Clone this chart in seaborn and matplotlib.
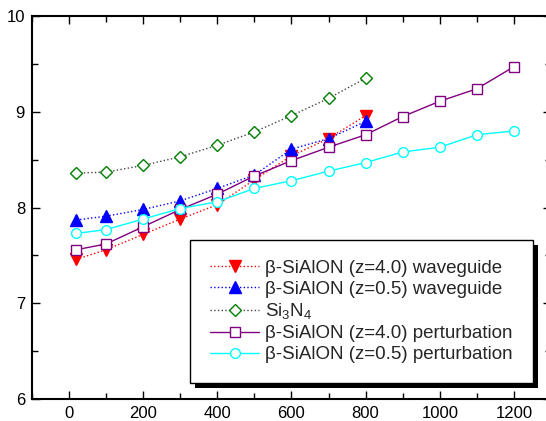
import numpy as np
import pandas as pd
import matplotlib
matplotlib.use("Agg")
import matplotlib.pyplot as plt
from matplotlib.patches import Rectangle
from matplotlib.transforms import IdentityTransform
from matplotlib.ticker import MultipleLocator
import seaborn as sns

# Data
x_short = [20, 100, 200, 300, 400, 500, 600, 700, 800]
x_long = [20, 100, 200, 300, 400, 500, 600, 700, 800, 900, 1000, 1100, 1200]

wg_z40 = [7.46, 7.56, 7.72, 7.88, 8.03, 8.29, 8.54, 8.72, 8.96]
wg_z05 = [7.87, 7.91, 7.98, 8.07, 8.20, 8.34, 8.61, 8.72, 8.90]
si3n4 = [8.36, 8.37, 8.44, 8.53, 8.65, 8.79, 8.96, 9.14, 9.35]
pt_z40 = [7.56, 7.62, 7.80, 7.98, 8.14, 8.33, 8.49, 8.63, 8.76, 8.95, 9.11, 9.24, 9.47]
pt_z05 = [7.73, 7.77, 7.88, 7.99, 8.06, 8.20, 8.28, 8.38, 8.47, 8.58, 8.63, 8.76, 8.80]

labels = [
    "β-SiAlON (z=4.0) waveguide",
    "β-SiAlON (z=0.5) waveguide",
    "Si$_3$N$_4$",
    "β-SiAlON (z=4.0) perturbation",
    "β-SiAlON (z=0.5) perturbation",
]


def main():
    sns.set_style("ticks")
    plt.rcParams["font.family"] = ["Liberation Sans", "DejaVu Sans"]
    plt.rcParams["mathtext.fontset"] = "custom"
    plt.rcParams["mathtext.rm"] = "Liberation Sans"

    fig = plt.figure(figsize=(5.46, 4.21), dpi=100)
    ax = fig.add_axes([0.0586, 0.052, 0.9505, 0.910])

    # (x, y, marker color, line color, linestyle, marker, facecolor)
    series = [
        (x_short, wg_z40, "red", "red", ":", "v", "red"),
        (x_short, wg_z05, "blue", "blue", ":", "^", "blue"),
        (x_short, si3n4, "green", "#444444", ":", "D", "white"),
        (x_long, pt_z40, "purple", "purple", "-", "s", "white"),
        (x_long, pt_z05, "cyan", "cyan", "-", "o", "white"),
    ]

    for (xs, ys, mc, lc, ls, mk, fc), lab in zip(series, labels):
        df = pd.DataFrame({"x": xs, "y": ys})
        ms = 8 if mk in ("v", "^") else 7
        if mk == "D":
            ms = 6.5
        sns.lineplot(data=df, x="x", y="y", ax=ax, color=lc, linestyle=ls,
                     linewidth=1.0, marker=mk, markersize=ms,
                     markerfacecolor=fc, markeredgecolor=mc,
                     markeredgewidth=1.0, label=lab)

    ax.set_xlim(-100, 1300)
    ax.set_ylim(6, 10)
    ax.xaxis.set_major_locator(MultipleLocator(200))
    ax.xaxis.set_minor_locator(MultipleLocator(100))
    ax.yaxis.set_major_locator(MultipleLocator(1))
    ax.yaxis.set_minor_locator(MultipleLocator(0.5))
    ax.set_xlabel("")
    ax.set_ylabel("")

    ax.tick_params(which="both", direction="in", top=True, right=True,
                   width=1.0, labelsize=12, color="black", labelcolor="black")
    ax.tick_params(which="major", length=6, pad=5)
    ax.tick_params(which="minor", length=4)
    for sp in ax.spines.values():
        sp.set_linewidth(1.5)
        sp.set_color("black")

    leg = ax.legend(loc="lower right", bbox_to_anchor=(0.965, 0.042),
                    borderaxespad=0, fontsize=13.5, frameon=True,
                    fancybox=False, framealpha=1, edgecolor="black",
                    handlelength=2.6, handletextpad=0.35, labelspacing=0.2,
                    borderpad=1.05, numpoints=1)
    leg.get_frame().set_linewidth(1.0)

    # hard black drop shadow behind the legend
    fig.canvas.draw()
    bb = leg.get_window_extent()
    shadow = Rectangle((bb.x0 + 5, bb.y0 - 5), bb.width, bb.height,
                       transform=IdentityTransform(), facecolor="black",
                       edgecolor="none", zorder=leg.get_zorder() - 0.5,
                       clip_on=False)
    ax.add_patch(shadow)
    ax.set_xlim(-100, 1300)
    ax.set_ylim(6, 10)

    fig.savefig("out.png", dpi=100)
    plt.close(fig)


if __name__ == "__main__":
    main()
